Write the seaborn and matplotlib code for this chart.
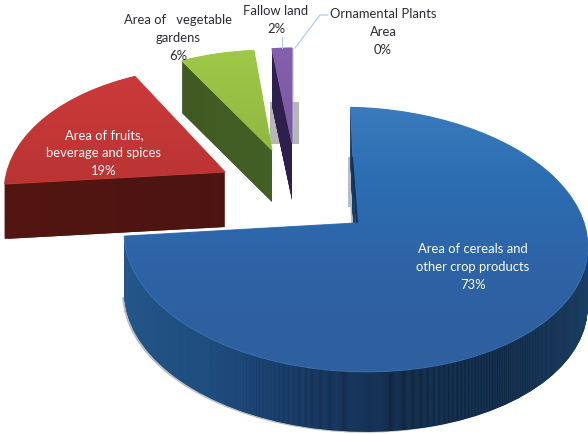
import numpy as np
import matplotlib
matplotlib.use("Agg")
import matplotlib.pyplot as plt
import matplotlib.transforms as mtransforms
from matplotlib.patches import Rectangle, Polygon
import seaborn as sns

# values
categories = ["Area of cereals and\nother crop products",
              "Area of fruits,\nbeverage and spices",
              "Area of   vegetable\ngardens",
              "Fallow land",
              "Ornamental Plants\nArea"]
shares = [73, 19, 6, 2, 0]

sns.set_theme(style="white")
plt.rcParams['font.family'] = ['Lato', 'DejaVu Sans']

W, H = 588, 434


class Tilt(mtransforms.Transform):
    # unit pie -> picture pixels, near side drawn bigger
    input_dims = output_dims = 2

    def __init__(self, cx, cy, a, b, k, s):
        super().__init__()
        self.cx, self.cy, self.a, self.b, self.k, self.s = cx, cy, a, b, k, s

    def transform_non_affine(self, xy):
        xy = np.asarray(xy)
        w = 1 + self.k * xy[:, 1]
        return np.column_stack([self.cx + self.a * xy[:, 0] / w,
                                self.cy - self.b * xy[:, 1] / w + self.s * xy[:, 0]])


# per slice drawing set-up: apex x, apex y, a, b, k, shear, first bearing, depth
layout = [
    (356, 223, 230, 130, 0.125, 7, -1.5, 60),
    (225, 172, 217, 124, 0.183, 4, 0.0, 55),
    (272, 150, 200, 100, 0.0, 0, 2.0, 52),
    (292, 143, 160, 95, 0.0, 0, 352.8, 57),
    (293, 143, 160, 95, 0.0, 0, 360.0, 0),
]
top_colors = [["#4080c0", "#2c6db2", "#2e62a4", "#2f5f9e"],
              ["#d23c3c", "#a52c2c"],
              ["#a0ca48", "#7fa43a"],
              ["#8560ae", "#6f4d98"],
              ["#a8c8e6", "#a8c8e6"]]
side_colors = [["#25578a", "#1d4a7c", "#163359", "#10253f", "#10253f", "#183450"],
               ["#531612", "#4c1411"],
               ["#3e5220", "#476628"],
               ["#33214f", "#2f1f4c"],
               None]

fig = plt.figure(figsize=(W / 100, H / 100), dpi=100, facecolor="white")
ax = fig.add_axes([0, 0, 1, 1])

# grey smudges behind the thin slices
ax.add_patch(Rectangle((270, 102), 29, 42, facecolor="#b4b6b8", edgecolor="none", zorder=1))
ax.add_patch(Rectangle((348, 157), 4, 50, facecolor="#b9bcc0", edgecolor="none", zorder=1))

cum = 0
z = 5
slices = []
for i, share in enumerate(shares):
    off = layout[i][6]
    bearing = off + (cum * 3.6 if i < 3 else 0)
    slices.append((share, bearing, i))
    cum += share

# back to front, blue goes last
for share, bearing, i in sorted(slices, key=lambda s: -s[2]):
    cx, cy, a, b, k, s, off, depth = layout[i]
    pie_kw = dict(startangle=90 - bearing, counterclock=False, normalize=False, radius=1)
    flat = dict(edgecolor="none", linewidth=0)

    if side_colors[i] is not None:
        if i == 0:
            # thin shadow under the big slice
            w = ax.pie([share / 100], colors=["#b9bcc0"], wedgeprops=flat, **pie_kw)[0][0]
            w.set_transform(Tilt(cx - 2, cy + depth + 1, a, b, k, s) + ax.transData)
            w.set_zorder(z)
            z += 1
        cmap = sns.blend_palette(side_colors[i], n_colors=1024, as_cmap=True)
        for d in range(depth, 0, -1):
            w = ax.pie([share / 100], colors=[side_colors[i][0]], wedgeprops=flat, **pie_kw)[0][0]
            w.set_transform(Tilt(cx, cy + d, a, b, k, s) + ax.transData)
            w.set_zorder(z)
            xs = (cx - a - 5, cx + a + 5) if i == 0 else (cx - a, cx)
            im = ax.imshow(np.linspace(0, 1, 1024)[None, :], cmap=cmap, aspect="auto",
                           interpolation="bilinear",
                           extent=(xs[0], xs[1], H, 0), zorder=z + 1)
            im.set_clip_path(w)
            z += 2

    w = ax.pie([share / 100], colors=[top_colors[i][0]],
               wedgeprops=dict(edgecolor=top_colors[i][0], linewidth=0.8), **pie_kw)[0][0]
    w.set_transform(Tilt(cx, cy, a, b, k, s) + ax.transData)
    w.set_zorder(z)
    if share > 0:
        cmap = sns.blend_palette(top_colors[i], n_colors=512, as_cmap=True)
        im = ax.imshow(np.linspace(0, 1, 512)[:, None], cmap=cmap, aspect="auto",
                       interpolation="bilinear",
                       extent=(0, W, cy + b * 1.2, cy - b * 1.1), zorder=z + 1)
        im.set_clip_path(w)
    z += 2

# dark inner wall of the big slice
ax.add_patch(Polygon([(351, 157), (353, 157), (358, 222), (356, 224)], facecolor="#12305a",
                     edgecolor="none", zorder=z))

# leader lines
leader = "#a8c8e6"
ax.plot([282, 282], [37, 48], color=leader, lw=0.8, zorder=z)
ax.plot([295, 320, 328], [48, 15, 15], color=leader, lw=0.8, zorder=z)

# labels
dark = "#2a2a36"
label_pos = [(473, 267, "white"), (104, 153, "white"), (178, 38, dark), (276, 20, dark), (383, 32, dark)]
for name, share, (x, y, col) in zip(categories, shares, label_pos):
    ax.text(x, y, f"{name}\n{share}%", ha="center", va="center", color=col,
            fontsize=9.4, linespacing=1.6, zorder=z + 1)

ax.set_xlim(0, W)
ax.set_ylim(H, 0)
ax.set_aspect("auto")
ax.axis("off")
fig.savefig("out.png", dpi=100, facecolor="white")
